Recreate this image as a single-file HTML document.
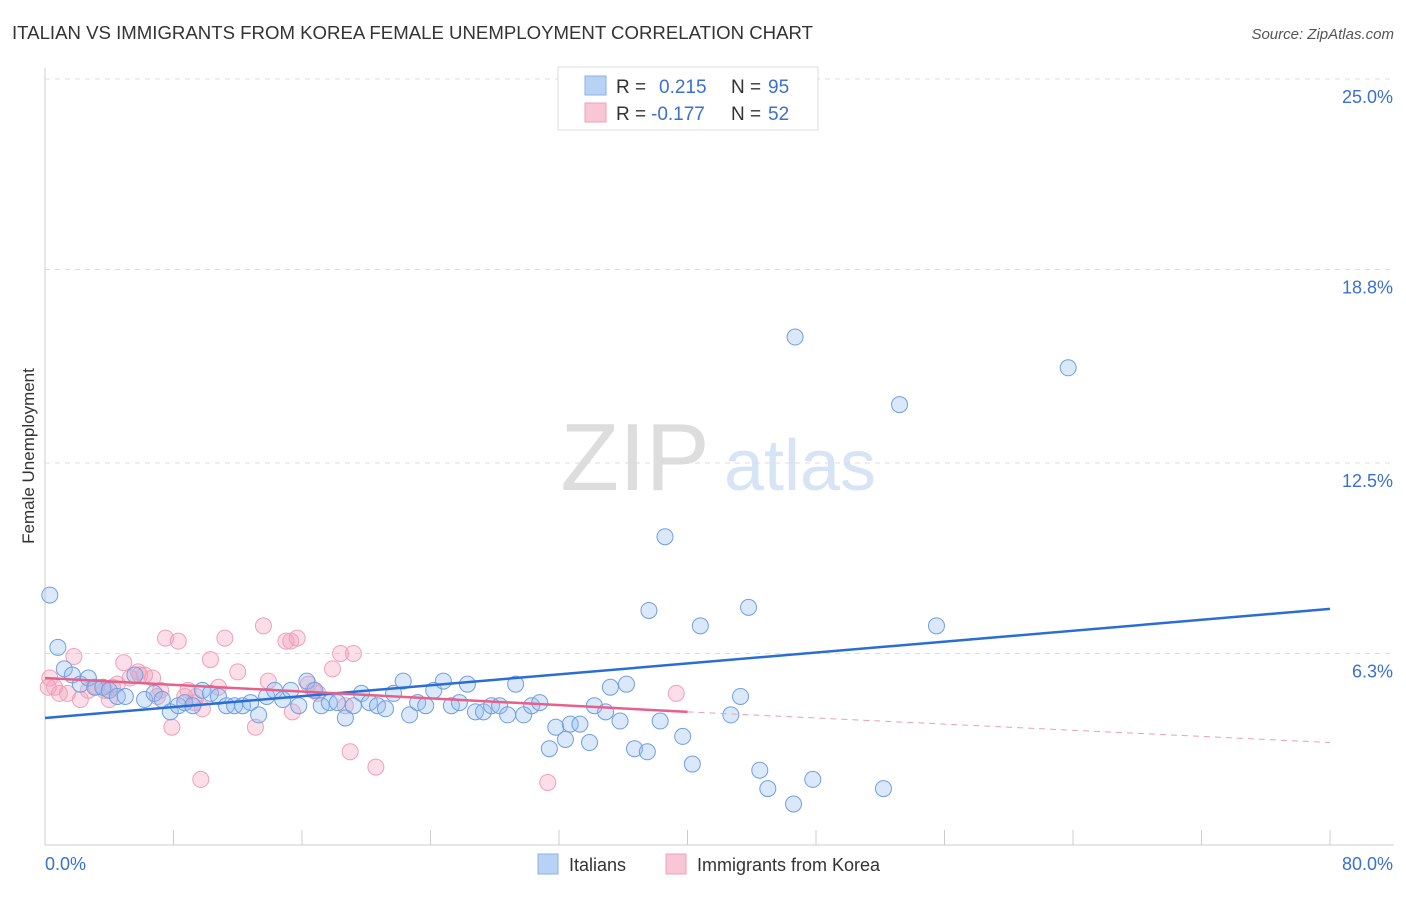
<!DOCTYPE html>
<html><head><meta charset="utf-8"><style>
body{margin:0;background:#fff;font-family:"Liberation Sans",sans-serif}
svg text{font-family:"Liberation Sans",sans-serif}
</style></head><body>
<svg id="c" width="1406" height="892" xmlns="http://www.w3.org/2000/svg">
<text x="12" y="39" font-size="18.5" fill="#333" textLength="801" lengthAdjust="spacingAndGlyphs">ITALIAN VS IMMIGRANTS FROM KOREA FEMALE UNEMPLOYMENT CORRELATION CHART</text>
<text x="1394" y="39" font-size="15" fill="#555" font-style="italic" text-anchor="end">Source: ZipAtlas.com</text>
<text x="34" y="456" font-size="17" fill="#333" text-anchor="middle" transform="rotate(-90 34 456)">Female Unemployment</text>
<text x="635" y="490" font-size="96" fill="#ddd" text-anchor="middle" font-family="Liberation Serif">ZIP</text>
<text x="800" y="490" font-size="72" fill="#d6e4f5" text-anchor="middle">atlas</text>
<g id="grid"></g><g id="pts"></g><g id="lines"></g>
<g>
<rect x="558" y="67" width="260" height="63" fill="#fff" stroke="#ddd"/>
<rect x="585" y="76" width="21" height="19" fill="#b8d2f5" stroke="#8ab2e8"/>
<rect x="585" y="103" width="21" height="19" fill="#f8c6d4" stroke="#f0a0b8"/>
<text x="616" y="93" font-size="19" fill="#333">R =</text><text x="659" y="93" font-size="19" fill="#3a70d0">0.215</text>
<text x="731" y="93" font-size="19" fill="#333">N =</text><text x="768" y="93" font-size="19" fill="#3a70d0">95</text>
<text x="616" y="120" font-size="19" fill="#333">R =</text><text x="651" y="120" font-size="19" fill="#3a70d0">-0.177</text>
<text x="731" y="120" font-size="19" fill="#333">N =</text><text x="768" y="120" font-size="19" fill="#3a70d0">52</text>
</g>
<g>
<rect x="538" y="854" width="20" height="20" fill="#b8d2f5" stroke="#8ab2e8"/>
<text x="569" y="871" font-size="18" fill="#333">Italians</text>
<rect x="666" y="854" width="20" height="20" fill="#f8c6d4" stroke="#f0a0b8"/>
<text x="697" y="871" font-size="18" fill="#333">Immigrants from Korea</text>
</g>
</svg>
<script>
const yTicks=[25.0,18.8,12.5,6.3];
const yTickLabels=["25.0%","18.8%","12.5%","6.3%"];
const xMinLabel="0.0%", xMaxLabel="80.0%";
const blueX=[0.3,0.8,1.2,1.7,2.2,2.7,3.1,3.6,4.0,4.5,5.0,5.6,6.2,6.8,7.3,7.8,8.3,8.7,9.2,9.8,10.3,10.8,11.3,11.8,12.3,12.8,13.3,13.8,14.3,14.8,15.3,15.8,16.3,16.8,17.2,17.7,18.2,18.7,19.2,19.7,20.2,20.7,21.2,21.7,22.3,22.7,23.2,23.7,24.2,24.8,25.3,25.8,26.3,26.8,27.3,27.8,28.3,28.8,29.3,29.8,30.3,30.8,31.4,31.8,32.4,32.7,33.3,33.9,34.2,34.9,35.2,35.8,36.2,36.7,37.5,37.6,38.3,38.6,39.7,40.3,40.8,43.3,42.7,43.8,44.5,45.0,46.6,46.7,47.8,52.2,53.2,55.5,63.7,43.3];
const blueY=[8.2,6.5,5.8,5.6,5.3,5.5,5.2,5.2,5.1,4.9,4.9,5.6,4.8,5.0,4.8,4.4,4.6,4.7,4.6,5.1,5.0,4.9,4.6,4.6,4.6,4.7,4.3,4.9,5.1,4.8,5.1,4.6,5.4,5.1,4.6,4.7,4.7,4.2,4.6,5.0,4.7,4.6,4.5,5.0,5.4,4.3,4.7,4.6,5.1,5.4,4.6,4.7,5.3,4.4,4.4,4.6,4.6,4.3,5.3,4.3,4.6,4.7,3.2,3.9,3.5,4.0,4.0,3.4,4.6,4.4,5.2,4.1,5.3,3.2,3.1,7.7,4.1,10.1,3.6,2.7,7.2,4.9,4.3,7.8,2.5,1.9,1.4,16.6,2.2,1.9,14.4,7.2,15.6,25.0];
const pinkX=[0.3,0.6,0.9,1.4,1.8,2.2,2.7,3.2,3.7,4.2,4.5,4.9,5.3,5.8,6.2,6.7,7.0,7.5,7.9,8.3,8.7,8.9,9.3,9.7,9.8,10.3,10.8,11.2,12.0,13.1,13.6,13.9,15.0,15.3,15.4,15.7,16.4,16.7,17.0,17.9,18.4,18.7,19.0,19.2,20.6,31.3,39.3,0.2,4.0,7.2,5.9,9.4];
const pinkY=[5.5,5.2,5.0,5.0,6.2,4.8,5.1,5.2,5.1,5.2,5.3,6.0,5.5,5.7,5.6,5.5,4.9,6.8,3.9,6.7,4.9,5.1,4.7,2.2,4.5,6.1,5.2,6.8,5.7,3.9,7.2,5.4,6.7,6.7,4.4,6.8,5.3,5.1,5.0,5.8,6.3,4.6,3.1,6.3,2.6,2.1,5.0,5.2,4.8,5.1,5.6,4.9];
const blueTrend=[[0,4.2],[80,7.75]];
const pinkTrend=[[0,5.5],[40,4.4],[80,3.4]];
const sx=v=>45+v*1285/80, sy=v=>847-v*768/25;
const NS="http://www.w3.org/2000/svg";
function mk(tag,attrs,parent){const e=document.createElementNS(NS,tag);for(const k in attrs)e.setAttribute(k,attrs[k]);parent.appendChild(e);return e;}
const svg=document.getElementById('c'),grid=document.getElementById('grid'),pts=document.getElementById('pts'),lines=document.getElementById('lines');
yTicks.forEach((t,i)=>{
 const y=t===25?79:sy(t);
 const l=mk('line',{x1:45,x2:1394,y1:y,y2:y,stroke:'#ddd','stroke-dasharray':'5,5'},grid);
 
 
 const tx=mk('text',{x:1393,y:y+24,'font-size':18,fill:'#3a70d0','text-anchor':'end'},grid);
 tx.textContent=yTickLabels[i];
 
 
});
const ax=mk('line',{x1:45,x2:1394,y1:845,y2:845,stroke:'#ccc'},grid);


const ay=mk('line',{x1:45,x2:45,y1:68,y2:845,stroke:'#ccc'},grid);


for(let i=1;i<=10;i++){const x=sx(i*8);const t=mk('line',{x1:x,x2:x,y1:830,y2:845,stroke:'#ccc'},grid);
 
 }
const xl=mk('text',{x:45,y:870,'font-size':18,fill:'#3a70d0'},grid);xl.textContent=xMinLabel;


const xr=mk('text',{x:1393,y:870,'font-size':18,fill:'#3a70d0','text-anchor':'end'},grid);xr.textContent=xMaxLabel;


pinkX.forEach((x,i)=>{const c=mk('circle',{cx:sx(x),cy:sy(pinkY[i]),r:8,fill:'rgba(244,160,186,0.35)',stroke:'#f0a0b8','stroke-width':1},pts);
 
 });
blueX.forEach((x,i)=>{const c=mk('circle',{cx:sx(x),cy:sy(blueY[i]),r:8,fill:'rgba(150,190,240,0.35)',stroke:'#6f9fe0','stroke-width':1},pts);
 
 });
const bl=mk('line',{x1:sx(blueTrend[0][0]),y1:sy(blueTrend[0][1]),x2:sx(blueTrend[1][0]),y2:sy(blueTrend[1][1]),stroke:'#2a6dd4','stroke-width':2.5},lines);


const pl=mk('line',{x1:sx(pinkTrend[0][0]),y1:sy(pinkTrend[0][1]),x2:sx(pinkTrend[1][0]),y2:sy(pinkTrend[1][1]),stroke:'#e8608a','stroke-width':2.5},lines);


const pd=mk('line',{x1:sx(pinkTrend[1][0]),y1:sy(pinkTrend[1][1]),x2:sx(pinkTrend[2][0]),y2:sy(pinkTrend[2][1]),stroke:'#e8a0b4','stroke-width':1,'stroke-dasharray':'6,5'},lines);


</script>
</body></html>
